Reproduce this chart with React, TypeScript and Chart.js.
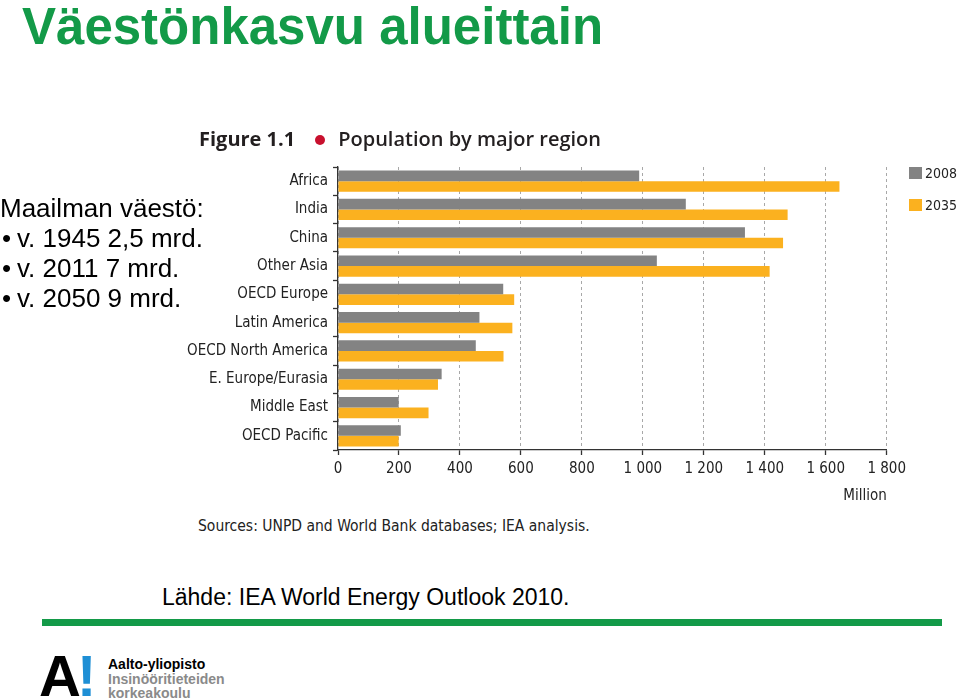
import React, { useEffect, useRef } from "react";
import { Chart, registerables } from "chart.js";

Chart.register(...registerables);

const categories = [
  "Africa",
  "India",
  "China",
  "Other Asia",
  "OECD Europe",
  "Latin America",
  "OECD North America",
  "E. Europe/Eurasia",
  "Middle East",
  "OECD Pacific",
];
const pop2008 = [988, 1141, 1335, 1046, 542, 464, 452, 340, 199, 206];
const pop2035 = [1645, 1475, 1460, 1416, 578, 572, 543, 328, 297, 199];
const seriesLabels = ["2008", "2035"];
const xMin = 0;
const xMax = 1800;
const xStep = 200;

const GRAY = "#838383";
const ORANGE = "#FBB11F";
const GREEN = "#139A48";
const NARROW = '"DejaVu Sans Condensed", "Liberation Sans Narrow", "Liberation Sans", sans-serif';
const ARIAL = '"Liberation Sans", Arial, sans-serif';

function fmt(v: number): string {
  if (v >= 1000) {
    return `${Math.floor(v / 1000)} ${String(v % 1000).padStart(3, "0")}`;
  }
  return String(v);
}

function PopChart() {
  const ref = useRef<HTMLCanvasElement | null>(null);
  useEffect(() => {
    if (!ref.current) return;
    const chart = new Chart(ref.current, {
      type: "bar",
      data: {
        labels: categories,
        datasets: [
          {
            label: seriesLabels[0],
            data: pop2008,
            backgroundColor: GRAY,
            borderWidth: 0,
            barPercentage: 1,
            categoryPercentage: 0.75,
          },
          {
            label: seriesLabels[1],
            data: pop2035,
            backgroundColor: ORANGE,
            borderWidth: 0,
            barPercentage: 1,
            categoryPercentage: 0.75,
          },
        ],
      },
      options: {
        indexAxis: "y",
        responsive: false,
        animation: false,
        devicePixelRatio: 1,
        layout: { padding: { top: 17, right: 22, left: 0, bottom: 0 } },
        plugins: {
          legend: { display: false },
          tooltip: { enabled: false },
          title: { display: false },
        },
        scales: {
          x: {
            type: "linear",
            min: xMin,
            max: xMax,
            afterFit: (scale: any) => {
              scale.height = 60;
            },
            ticks: {
              stepSize: xStep,
              padding: 5,
              color: "#222",
              font: { family: NARROW, size: 15 },
              callback: (v: any) => fmt(Number(v)),
            },
            grid: {
              color: "#a8a8a8",
              lineWidth: 1,
              drawOnChartArea: true,
              drawTicks: true,
              tickLength: 5,
              tickColor: "#333",
              tickWidth: 1.3,
              tickBorderDash: [],
            },
            border: { display: true, color: "#333", width: 1.3, dash: [3, 3] },
            title: {
              display: true,
              text: "Million",
              align: "end",
              color: "#222",
              font: { family: NARROW, size: 15 },
              padding: { top: 0, bottom: 5 },
            },
          },
          y: {
            type: "category",
            afterFit: (scale: any) => {
              scale.width = 163;
            },
            ticks: {
              padding: 5,
              color: "#222",
              font: { family: NARROW, size: 15 },
            },
            grid: {
              drawOnChartArea: false,
              drawTicks: true,
              tickLength: 5,
              offset: true,
              color: "#333",
              tickColor: "#333",
              tickWidth: 1.3,
            },
            border: { display: true, color: "#333", width: 1.3 },
          },
        },
      },
    } as any);
    return () => chart.destroy();
  }, []);
  return (
    <canvas
      ref={ref}
      width={736}
      height={360}
      style={{ position: "absolute", left: 175, top: 150, width: 736, height: 360 }}
    />
  );
}

export default function App() {
  const abs = (s: React.CSSProperties): React.CSSProperties => ({
    position: "absolute",
    whiteSpace: "nowrap",
    margin: 0,
    ...s,
  });
  const bulletLines = ["v. 1945 2,5 mrd.", "v. 2011 7 mrd.", "v. 2050 9 mrd."];
  return (
    <div
      style={{
        position: "absolute",
        left: 0,
        top: 0,
        width: 959,
        height: 699,
        overflow: "hidden",
        background: "#fff",
        fontFamily: ARIAL,
      }}
    >
      <div
        style={abs({
          left: 22,
          top: 1,
          fontSize: 51,
          lineHeight: "51px",
          fontWeight: 700,
          color: GREEN,
        })}
      >
        Väestönkasvu alueittain
      </div>

      <PopChart />

      <div style={abs({ left: 0, top: 193, fontSize: 26, lineHeight: "30px", color: "#000" })}>
        Maailman väestö:
      </div>
      {bulletLines.map((t, i) => (
        <div
          key={t}
          style={abs({ left: 0, top: 223 + i * 30, fontSize: 26, lineHeight: "30px", color: "#000" })}
        >
          <span style={{ display: "inline-block", width: 17, paddingLeft: 2, boxSizing: "border-box" }}>•</span>
          {t}
        </div>
      ))}

      <div
        style={abs({
          left: 199,
          top: 125,
          fontFamily: '"Open Sans", sans-serif',
          fontSize: 20,
          lineHeight: "28px",
          color: "#231f20",
        })}
      >
        <span style={{ fontWeight: 700 }}>Figure 1.1</span>
        <span
          style={{
            display: "inline-block",
            width: 10,
            height: 10,
            borderRadius: 5,
            background: "#C8102E",
            margin: "0 13px 0 20px",
            verticalAlign: "1px",
          }}
        />
        <span style={{ fontWeight: 600 }}>Population by major region</span>
      </div>

      <div style={abs({ left: 909, top: 167, width: 13, height: 12, background: GRAY })} />
      <div style={abs({ left: 925, top: 163, fontFamily: NARROW, fontSize: 14, lineHeight: "20px", color: "#222" })}>
        {seriesLabels[0]}
      </div>
      <div style={abs({ left: 909, top: 199, width: 13, height: 12, background: ORANGE })} />
      <div style={abs({ left: 925, top: 195, fontFamily: NARROW, fontSize: 14, lineHeight: "20px", color: "#222" })}>
        {seriesLabels[1]}
      </div>

      <div style={abs({ left: 198, top: 515, fontFamily: NARROW, fontSize: 15.5, lineHeight: "22px", color: "#222" })}>
        Sources: UNPD and World Bank databases; IEA analysis.
      </div>

      <div style={abs({ left: 162, top: 584, fontSize: 23, lineHeight: "26px", color: "#000" })}>
        Lähde: IEA World Energy Outlook 2010.
      </div>

      <div style={abs({ left: 42, top: 619, width: 900, height: 7, background: GREEN })} />

      <div
        style={abs({
          left: 39,
          top: 647,
          fontSize: 58,
          lineHeight: "58px",
          fontWeight: 900,
          color: "#000",
          letterSpacing: -4,
        })}
      >
        A<span style={{ color: "#1E8FD5" }}>!</span>
      </div>
      <div style={abs({ left: 108, top: 657, fontSize: 14, lineHeight: "15px", fontWeight: 700, color: "#000" })}>
        Aalto-yliopisto
      </div>
      <div style={abs({ left: 108, top: 672, fontSize: 14, lineHeight: "15px", fontWeight: 700, color: "#8a8a8a" })}>
        Insinööritieteiden
      </div>
      <div style={abs({ left: 108, top: 686, fontSize: 14, lineHeight: "15px", fontWeight: 700, color: "#8a8a8a" })}>
        korkeakoulu
      </div>
    </div>
  );
}
